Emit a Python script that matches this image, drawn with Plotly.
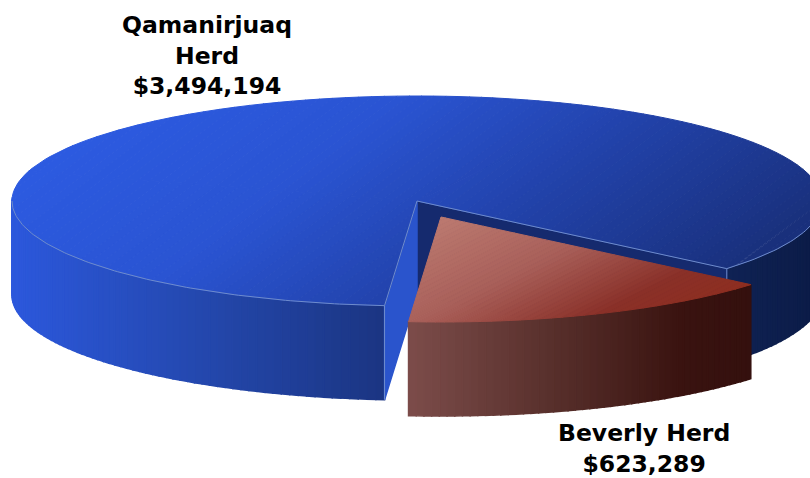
import numpy as np
import plotly.graph_objects as go

# ---- data ----
herds = ["Qamanirjuaq<br>Herd", "Beverly Herd"]
funding = [3494194, 623289]
funding_labels = ["$3,494,194", "$623,289"]

# ---- view ----
W, H = 810, 478
CX, CY = 417, 201      # blue apex
RX, RY = 405, 105
DEPTH = 94
OFFSET = (24, 16)      # explosion of the Beverly slice
START = 40.1           # degrees, clockwise from east, ellipse parameter

TOP_BLUE = [(160, "#2c5ae0"), (320, "#2a54d2"), (470, "#2243ac"), (660, "#19307c")]
TOP_RED = [(394, "#bc7a70"), (477, "#a9605a"), (553, "#8a3028"), (593, "#8e2e20")]
WALL_BLUE = [(12, "#2c58dc"), (200, "#2448ae"), (384, "#1b3582"), (728, "#0f2254"), (810, "#0c1c48")]
WALL_RED = [(408, "#7c4c4a"), (550, "#58302c"), (680, "#3a1310"), (750, "#34100e")]
CUT_LEFT = "#2a54cc"
CUT_RIGHT = "#152a6e"
EDGE = "#6f8ccc"


def rgb(h):
    return np.array([int(h[i:i + 2], 16) for i in (1, 3, 5)], float)


def ramp(stops, t):
    xs = [s[0] for s in stops]
    cs = np.array([rgb(s[1]) for s in stops])
    c = [np.interp(t, xs, cs[:, i]) for i in range(3)]
    return "rgb(%d,%d,%d)" % tuple(round(v) for v in c)


def ell(a, cx, cy):
    r = np.radians(a)
    return cx + RX * np.cos(r), cy + RY * np.sin(r)


fig = go.Figure()


def poly(pts, color, width=1.5):
    xs = [p[0] for p in pts] + [pts[0][0]]
    ys = [p[1] for p in pts] + [pts[0][1]]
    fig.add_trace(go.Scatter(x=xs, y=ys, mode="lines", fill="toself", fillcolor=color,
                             line=dict(color=color, width=width), hoverinfo="skip", showlegend=False))


def clip(pts, d, lim, keep_less):
    out = []
    n = len(pts)
    for i in range(n):
        p, q = pts[i], pts[(i + 1) % n]
        sp = p[0] * d[0] + p[1] * d[1] - lim
        sq = q[0] * d[0] + q[1] * d[1] - lim
        if not keep_less:
            sp, sq = -sp, -sq
        if sp <= 0:
            out.append(p)
        if sp * sq < 0:
            u = sp / (sp - sq)
            out.append((p[0] + u * (q[0] - p[0]), p[1] + u * (q[1] - p[1])))
    return out


def gradient_sector(a0, a1, cx, cy, d, stops, nbands=70):
    """Sector from a0 to a1, split in convex parts and painted in bands along direction d."""
    parts = max(1, int(np.ceil((a1 - a0) / 120)))
    edges = np.linspace(a0, a1, parts + 1)
    all_pts = []
    pieces = []
    for k in range(parts):
        arc = [ell(a, cx, cy) for a in np.linspace(edges[k], edges[k + 1], 60)]
        piece = [(cx, cy)] + arc
        pieces.append(piece)
        all_pts += piece
    proj = [p[0] * d[0] + p[1] * d[1] for p in all_pts]
    bands = np.linspace(min(proj) - 1, max(proj) + 1, nbands + 1)
    for piece in pieces:
        for b in range(nbands):
            s = clip(piece, d, bands[b], False)
            if len(s) >= 3:
                s = clip(s, d, bands[b + 1], True)
            if len(s) >= 3:
                poly(s, ramp(stops, (bands[b] + bands[b + 1]) / 2), width=1.0)


def wall(a0, a1, cx, cy, stops, n):
    grid = np.linspace(a0, a1, n + 1)
    for i in range(n):
        p0 = ell(grid[i], cx, cy)
        p1 = ell(grid[i + 1], cx, cy)
        mid = (p0[0] + p1[0]) / 2
        poly([p0, p1, (p1[0], p1[1] + DEPTH), (p0[0], p0[1] + DEPTH)], ramp(stops, mid))


# angles from the values
total = sum(funding)
sweep = 360 * funding[1] / total
red_a0, red_a1 = START, START + sweep
blue_a0, blue_a1 = red_a1, START + 360

# blue outer walls, then its two cut faces
wall(-2, red_a0, CX, CY, WALL_BLUE, 30)
wall(red_a1, 182, CX, CY, WALL_BLUE, 70)
rc = ell(red_a0, CX, CY)
fc = ell(red_a1, CX, CY)
poly([(CX, CY), rc, (rc[0], rc[1] + DEPTH), (CX, CY + DEPTH)], CUT_RIGHT)
poly([(CX, CY), fc, (fc[0], fc[1] + DEPTH), (CX, CY + DEPTH)], CUT_LEFT)

# blue top
dir_blue = (0.6, 0.8)
gradient_sector(blue_a0, blue_a1, CX, CY, dir_blue, TOP_BLUE)

# light rim of the blue top
arc = np.array([ell(a, CX, CY) for a in np.linspace(blue_a0, 180, 120)])
rim = [np.array([ell(a, CX, CY) for a in np.linspace(-2, red_a0, 40)]), arc]
for seg in rim:
    fig.add_trace(go.Scatter(x=seg[:, 0], y=seg[:, 1], mode="lines", line=dict(color=EDGE, width=1),
                             hoverinfo="skip", showlegend=False))
fig.add_trace(go.Scatter(x=[fc[0], CX, rc[0], rc[0]], y=[fc[1], CY, rc[1], rc[1] + 18], mode="lines",
                         line=dict(color=EDGE, width=1), hoverinfo="skip", showlegend=False))
fig.add_trace(go.Scatter(x=[fc[0], fc[0]], y=[fc[1], fc[1] + DEPTH], mode="lines",
                         line=dict(color=EDGE, width=1), hoverinfo="skip", showlegend=False))

# Beverly slice, pulled out
RCX, RCY = CX + OFFSET[0], CY + OFFSET[1]
wall(red_a0, red_a1, RCX, RCY, WALL_RED, 50)
dir_red = (0.45, 0.9)
gradient_sector(red_a0, red_a1, RCX, RCY, dir_red, TOP_RED, nbands=50)

# labels
fnt = dict(family="DejaVu Sans", size=23.5, color="#000000")
fig.add_annotation(x=207, y=55, text="<b>%s<br>%s</b>" % (herds[0], funding_labels[0]),
                   showarrow=False, font=fnt, align="center")
fig.add_annotation(x=644, y=448, text="<b>%s<br>%s</b>" % (herds[1], funding_labels[1]),
                   showarrow=False, font=fnt, align="center")

fig.update_layout(
    width=W, height=H, margin=dict(l=0, r=0, t=0, b=0),
    paper_bgcolor="white", plot_bgcolor="white", showlegend=False,
    xaxis=dict(range=[0, W], visible=False, fixedrange=True),
    yaxis=dict(range=[H, 0], visible=False, fixedrange=True),
)
fig.write_html("out.html", config={"displayModeBar": False},
               post_script="document.body.style.margin='0';document.body.style.overflow='hidden';")
